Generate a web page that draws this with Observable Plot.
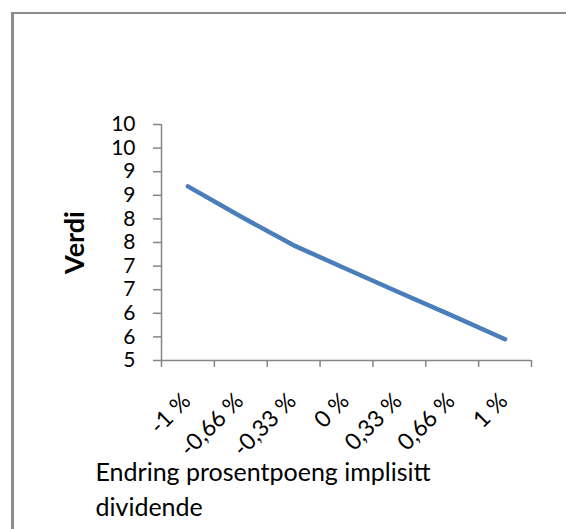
<!DOCTYPE html>
<html>
<head>
<meta charset="utf-8">
<script src="https://cdn.jsdelivr.net/npm/d3@7"></script>
<script src="https://cdn.jsdelivr.net/npm/@observablehq/plot@0.6"></script>
<style>
  html, body { margin: 0; padding: 0; background: #fff; }
  #wrap { position: relative; width: 566px; height: 529px; overflow: hidden; font-family: Lato, sans-serif; }
  #border { position: absolute; left: 11px; top: 12px; width: 700px; height: 700px;
            border-left: 3px solid #8c8c8c; border-top: 2px solid #8c8c8c; box-sizing: border-box; }
  #chart { position: absolute; left: 0; top: 0; }
</style>
</head>
<body>
<div id="wrap"><div id="border"></div><div id="chart"></div></div>
<script>
// Change in implied dividend (percentage points) and resulting value
const categories = ["-1 %", "-0,66 %", "-0,33 %", "0 %", "0,33 %", "0,66 %", "1 %"];
const values = [8.69, 8.05, 7.44, 6.94, 6.44, 5.95, 5.45];
const yTicks = [5, 5.5, 6, 6.5, 7, 7.5, 8, 8.5, 9, 9.5, 10];
const yTitle = "Verdi";
const xTitle = "Endring prosentpoeng implisitt\ndividende";

const data = categories.map((label, i) => ({i, label, value: values[i]}));
// category boundaries, where the x tick marks sit
const boundaries = d3.range(categories.length + 1).map(k => k - 0.5);
const axisColor = "#868686";

const chart = Plot.plot({
  width: 566,
  height: 529,
  marginLeft: 161,
  marginRight: 35,
  marginTop: 124,
  marginBottom: 169,
  style: {fontFamily: "Lato, sans-serif", color: "#000", background: "transparent"},
  x: {domain: [-0.5, categories.length - 0.5], axis: null},
  y: {domain: [5, 10], axis: null},
  marks: [
    Plot.axisY({ticks: yTicks, tickFormat: d => String(Math.round(d)), tickSize: 8, tickPadding: 18,
                stroke: axisColor, strokeWidth: 1.5, fontSize: 21, label: null}),
    Plot.axisX({ticks: boundaries, tickFormat: () => "", tickSize: 7,
                stroke: axisColor, strokeWidth: 1.5, label: null}),
    Plot.ruleX([-0.5], {stroke: axisColor, strokeWidth: 1.5}),
    Plot.ruleY([5], {stroke: axisColor, strokeWidth: 1.5}),
    Plot.line(data, {x: "i", y: "value", stroke: "#4A7EBB", strokeWidth: 4.5,
                     strokeLinecap: "round", strokeLinejoin: "round"}),
    Plot.text(data, {x: "i", text: "label", frameAnchor: "bottom", rotate: -45,
                     textAnchor: "end", lineAnchor: "bottom", dx: 4, dy: 42, fontSize: 23}),
    Plot.text([yTitle], {frameAnchor: "left", rotate: -90, textAnchor: "middle", lineAnchor: "middle",
                         dx: -86, fontSize: 27, fontWeight: "bold"}),
    Plot.text([xTitle], {frameAnchor: "bottom-left", textAnchor: "start", lineAnchor: "top",
                         dx: -66, dy: 96, fontSize: 25, lineHeight: 1.4})
  ]
});
document.getElementById("chart").appendChild(chart);
</script>
</body>
</html>
